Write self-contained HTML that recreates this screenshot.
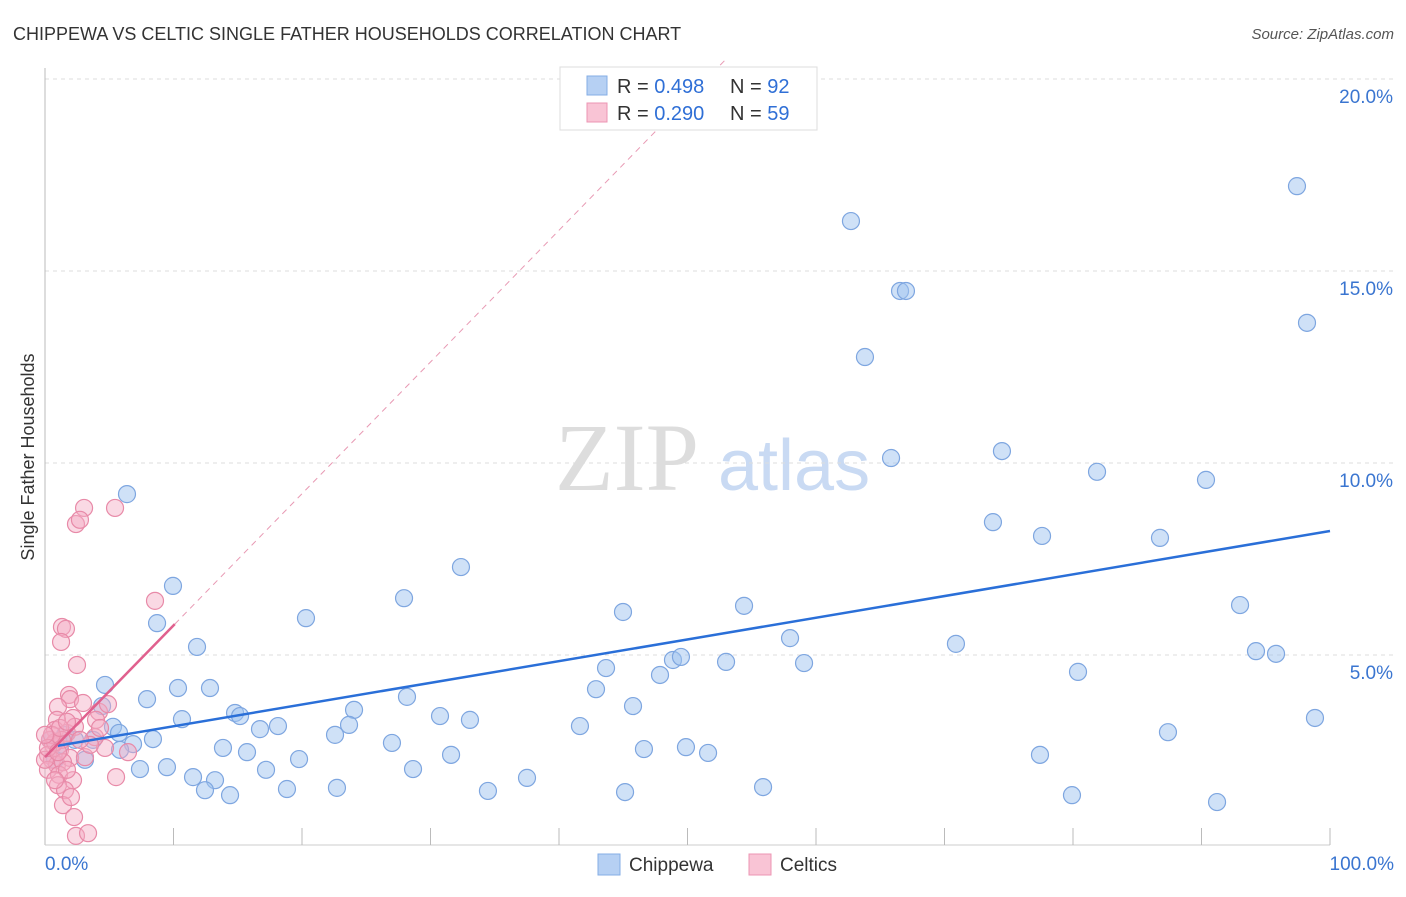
<!DOCTYPE html>
<html><head><meta charset="utf-8"><style>
body{margin:0;background:#fff;font-family:"Liberation Sans",sans-serif}
</style></head><body>
<svg id="c" width="1406" height="892" xmlns="http://www.w3.org/2000/svg" font-family="Liberation Sans, sans-serif">
<text x="13" y="40" font-size="18" fill="#333">CHIPPEWA VS CELTIC SINGLE FATHER HOUSEHOLDS CORRELATION CHART</text>
<text x="1394" y="39" font-size="15" fill="#555" font-style="italic" text-anchor="end">Source: ZipAtlas.com</text>
<text transform="translate(34,457) rotate(-90)" font-size="18" fill="#333" text-anchor="middle">Single Father Households</text>
<g><text x="555" y="490" font-size="96" font-family="Liberation Serif, serif" fill="#ddd">ZIP</text><text x="718" y="490" font-size="72" fill="#c9daf3">atlas</text></g>
<g id="grid"></g><g id="marks"></g>
<g>
<rect x="560" y="67" width="257" height="63" fill="#fff" stroke="#ddd"/>
<rect x="587" y="76" width="20" height="19" fill="#b6d0f3" stroke="#84aee6"/>
<rect x="587" y="103" width="20" height="19" fill="#f9c4d5" stroke="#ec95b3"/>
<text x="617" y="93" font-size="20" fill="#333">R = <tspan fill="#2f6fd6">0.498</tspan><tspan x="730">N = </tspan><tspan fill="#2f6fd6">92</tspan></text>
<text x="617" y="120" font-size="20" fill="#333">R = <tspan fill="#2f6fd6">0.290</tspan><tspan x="730">N = </tspan><tspan fill="#2f6fd6">59</tspan></text>
</g>
<g>
<rect x="598" y="854" width="22" height="21" fill="#b6d0f3" stroke="#84aee6"/>
<text x="629" y="871" font-size="19" fill="#333">Chippewa</text>
<rect x="749" y="854" width="22" height="21" fill="#f9c4d5" stroke="#ec95b3"/>
<text x="780" y="871" font-size="19" fill="#333">Celtics</text>
</g>
</svg>
<script>
const yTicks=[5,10,15,20];
const yTickLabels=["5.0%","10.0%","15.0%","20.0%"];
const xEndLabels=["0.0%","100.0%"];
const blueX=[6.38,9.96,8.72,11.83,4.67,7.94,10.35,12.84,10.66,14.79,15.18,4.44,5.29,5.76,6.85,8.40,3.74,1.17,2.33,13.85,15.72,16.73,18.13,20.31,24.05,23.66,22.57,19.77,17.20,11.52,13.23,14.40,12.45,9.49,7.39,18.83,22.72,27.00,28.17,27.94,30.74,33.07,32.37,28.64,31.60,34.47,37.51,41.63,42.88,43.66,44.98,45.76,46.61,45.14,47.86,48.87,49.49,49.88,51.60,53.00,54.40,57.98,59.07,55.88,62.72,66.54,67.00,63.81,65.84,70.89,73.77,74.47,77.59,77.43,81.87,80.39,79.92,86.77,90.35,87.39,91.21,93.00,94.24,95.80,97.43,98.21,98.83,0.78,0.39,1.56,3.11,5.84];
const blueY=[9.19,6.80,5.83,5.21,4.22,3.85,4.14,4.14,3.33,3.49,3.41,3.67,3.13,2.97,2.68,2.81,2.79,2.66,2.79,2.58,2.47,3.07,3.15,5.96,3.57,3.18,2.92,2.29,2.01,1.82,1.74,1.35,1.48,2.08,2.03,1.51,1.54,2.71,3.91,6.48,3.41,3.31,7.29,2.03,2.40,1.46,1.80,3.15,4.11,4.66,6.12,3.67,2.55,1.43,4.48,4.87,4.95,2.60,2.45,4.82,6.28,5.44,4.79,1.56,16.30,14.48,14.48,12.76,10.13,5.29,8.46,10.31,8.10,2.40,9.77,4.56,1.35,8.05,9.56,2.99,1.17,6.30,5.10,5.03,17.21,13.65,3.36,2.27,2.79,2.92,2.27,2.53];
const pinkX=[3.04,5.45,2.41,2.72,8.56,1.32,1.63,1.25,2.49,1.87,1.95,1.01,2.96,4.20,4.90,3.97,2.18,0.93,0.78,1.71,0.39,0.62,1.17,0.23,0.54,0.93,1.95,3.11,1.40,0.23,1.09,2.18,1.01,5.53,6.46,4.67,3.89,1.56,1.40,2.02,2.26,2.41,3.35,0.78,0,1.32,2.33,0.54,1.17,3.50,4.28,1.71,0.78,0.23,0,1.01,2.72,1.71];
const pinkY=[8.83,8.83,8.41,8.52,6.41,5.73,5.68,5.34,4.74,3.96,3.85,3.65,3.75,3.52,3.72,3.31,3.36,3.31,3.05,2.97,2.79,2.66,2.53,2.40,2.27,2.14,2.32,2.34,2.21,2.01,1.88,1.74,1.61,1.82,2.47,2.58,2.86,1.48,1.09,1.30,0.78,0.29,0.36,2.73,2.27,2.79,3.13,2.92,3.10,2.66,3.10,2.01,1.74,2.58,2.92,2.47,2.79,3.26];
const blueTrend=[2.58,0.0565];
const pinkTrend=[2.34,0.343];
const pinkSolidEnd=10.1;
const NS="http://www.w3.org/2000/svg";
const X=v=>45+v*12.85, Y=v=>847-v*38.4;
function mk(t,a,p){const e=document.createElementNS(NS,t);for(const k in a)e.setAttribute(k,a[k]);p.appendChild(e);return e;}
const g=document.getElementById('grid'),m=document.getElementById('marks');
yTicks.forEach((t,i)=>{
 const l=mk('line',{x1:45,x2:1395,y1:Y(t),y2:Y(t),stroke:'#ddd','stroke-dasharray':'4,4'},g);
 
 
 const tx=mk('text',{x:1393,y:Y(t)+24,'font-size':19,fill:'#3a75d0','text-anchor':'end'},g);tx.textContent=yTickLabels[i];
 
 
});
mk('line',{x1:45,x2:45,y1:68,y2:845,stroke:'#bbb'},g);
mk('line',{x1:45,x2:1330,y1:845,y2:845,stroke:'#ccc'},g);
for(let i=1;i<=10;i++){const t=mk('line',{x1:X(i*10),x2:X(i*10),y1:828,y2:845,stroke:'#bbb'},g);
 
 }
[[0,'start',45],[100,'end',1394]].forEach((d,i)=>{const t=mk('text',{x:d[2],y:870,'font-size':19,fill:'#3a75d0','text-anchor':d[1]},g);t.textContent=xEndLabels[i];
 
 });
blueX.forEach((x,i)=>{const c=mk('circle',{cx:X(x),cy:Y(blueY[i]),r:8.5,fill:'rgba(160,196,240,0.5)',stroke:'#7ea6e0','stroke-width':1.2},m);
 
 });
pinkX.forEach((x,i)=>{const c=mk('circle',{cx:X(x),cy:Y(pinkY[i]),r:8.5,fill:'rgba(245,170,195,0.45)',stroke:'#e88aa8','stroke-width':1.2},m);
 
 });
const bl=mk('line',{x1:X(1),y1:Y(blueTrend[0]+blueTrend[1]),x2:X(100),y2:Y(blueTrend[0]+blueTrend[1]*100),stroke:'#2a6fd8','stroke-width':2.5},m);


const xe=(20.5-pinkTrend[0])/pinkTrend[1];
const pd=mk('line',{x1:X(pinkSolidEnd),y1:Y(pinkTrend[0]+pinkTrend[1]*pinkSolidEnd),x2:X(xe),y2:Y(20.5),stroke:'#e89ab4','stroke-width':1,'stroke-dasharray':'6,5'},m);


const pl=mk('line',{x1:X(0),y1:Y(pinkTrend[0]),x2:X(pinkSolidEnd),y2:Y(pinkTrend[0]+pinkTrend[1]*pinkSolidEnd),stroke:'#e0608e','stroke-width':2.5},m);


</script>
</body></html>
